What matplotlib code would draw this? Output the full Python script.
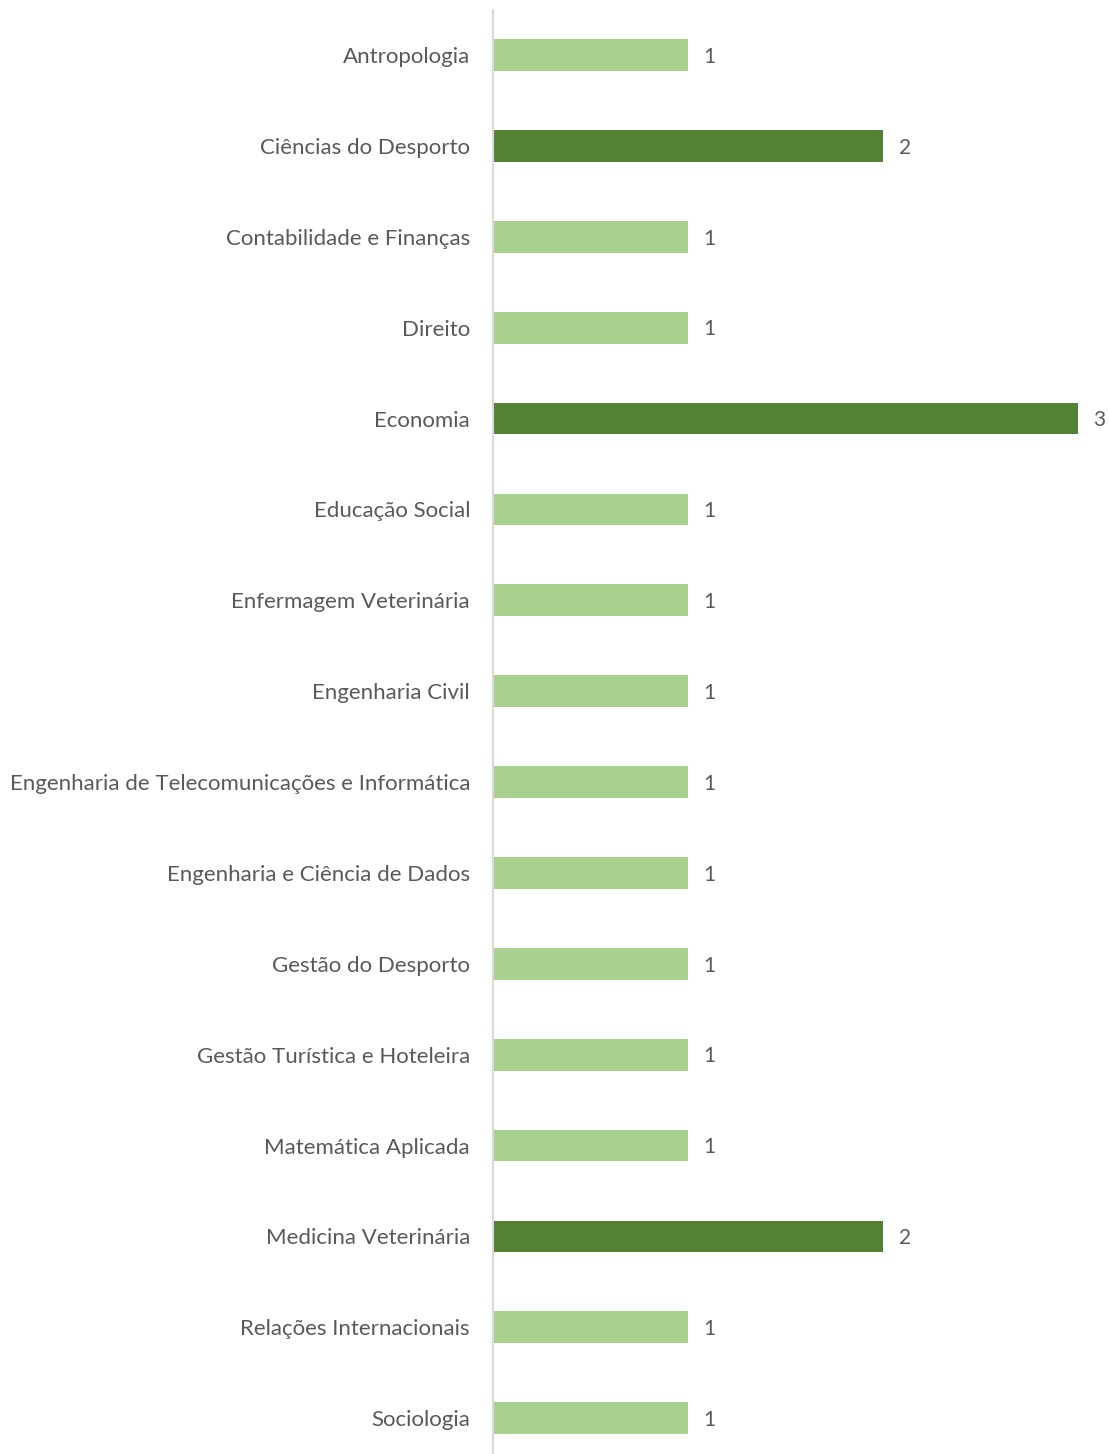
import matplotlib
matplotlib.use("Agg")
import matplotlib.pyplot as plt

categories = [
    "Antropologia",
    "Ciências do Desporto",
    "Contabilidade e Finanças",
    "Direito",
    "Economia",
    "Educação Social",
    "Enfermagem Veterinária",
    "Engenharia Civil",
    "Engenharia de Telecomunicações e Informática",
    "Engenharia e Ciência de Dados",
    "Gestão do Desporto",
    "Gestão Turística e Hoteleira",
    "Matemática Aplicada",
    "Medicina Veterinária",
    "Relações Internacionais",
    "Sociologia",
]
values = [1, 2, 1, 1, 3, 1, 1, 1, 1, 1, 1, 1, 1, 2, 1, 1]

LIGHT = "#A9D18E"
DARK = "#548235"
TEXT = "#595959"

plt.rcParams["font.family"] = ["Lato", "DejaVu Sans"]

fig = plt.figure(figsize=(11.09, 14.54), dpi=100)
ax = fig.add_axes([493 / 1109, -0.0066, 585 / 1109, 1.0])

n = len(categories)
ypos = list(range(n))
colors = [DARK if v > 1 else LIGHT for v in values]
ax.barh(ypos, values, height=0.35, color=colors, zorder=2)

for y, v in zip(ypos, values):
    ax.text(v + 0.08, y + 0.02, str(v), va="center", ha="left",
            fontsize=15, color=TEXT, clip_on=False)

ax.set_xlim(0, 3)
ax.set_ylim(n - 0.5, -0.5)
ax.set_yticks(ypos)
ax.set_yticklabels(categories, fontsize=16, color=TEXT)
ax.tick_params(axis="y", length=0, pad=16.5)
ax.set_xticks([])

for side in ["top", "right", "bottom"]:
    ax.spines[side].set_visible(False)
ax.spines["left"].set_color("#D9D9D9")
ax.spines["left"].set_linewidth(1.5)

fig.savefig("out.png", dpi=100)
